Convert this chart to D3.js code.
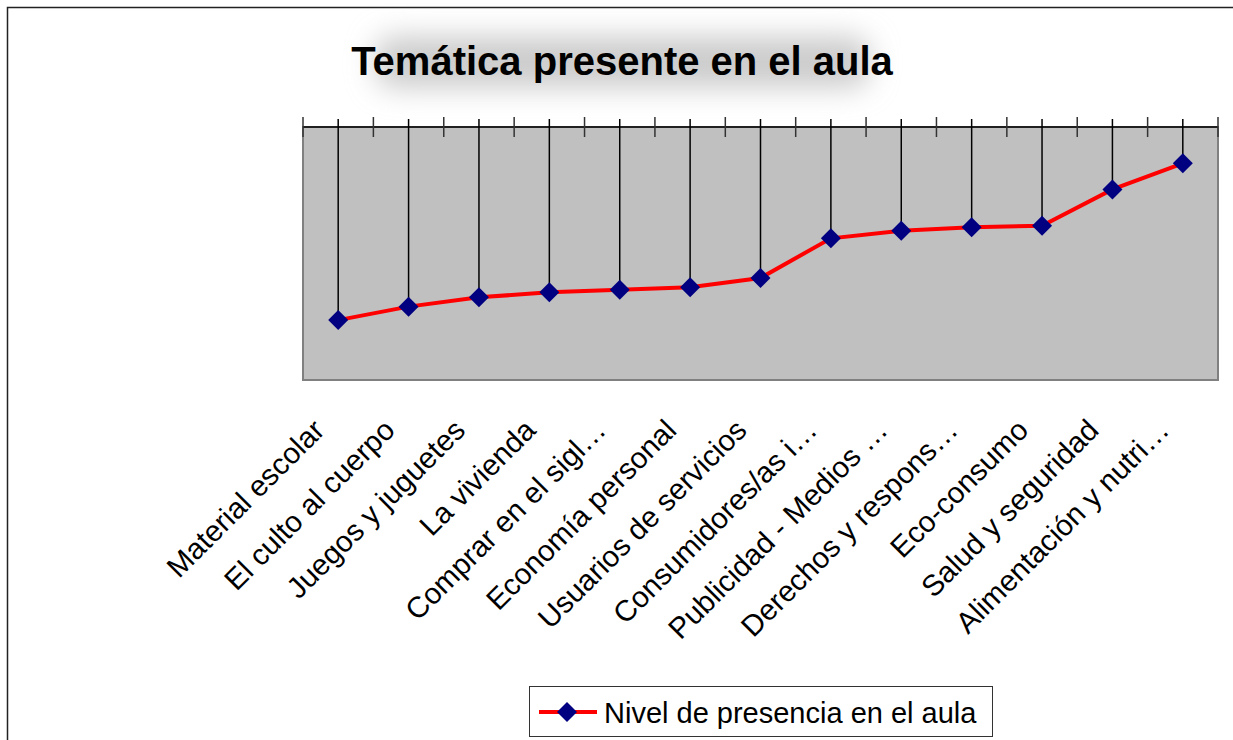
<!DOCTYPE html>
<meta charset="utf-8">
<style>
  body { margin: 0; background: #fff; }
  text { font-family: "Liberation Sans", Arial, sans-serif; }
</style>
<body>
  <div id="chart"></div>
  <script src="https://d3js.org/d3.v7.min.js"></script>
  <script>
    // categories, left to right
    var categories = [
      "Material escolar", "El culto al cuerpo", "Juegos y juguetes", "La vivienda",
      "Comprar en el sigl\u2026", "Econom\u00eda personal", "Usuarios de servicios",
      "Consumidores/as i\u2026", "Publicidad - Medios \u2026", "Derechos y respons\u2026",
      "Eco-consumo", "Salud y seguridad", "Alimentaci\u00f3n y nutri\u2026"
    ];
    // "Nivel de presencia en el aula"
    var values = [1.71, 1.87, 1.98, 2.04, 2.07, 2.10, 2.21, 2.68, 2.77, 2.81, 2.83, 3.26, 3.57];
    var seriesName = "Nivel de presencia en el aula";
    var title = "Tem\u00e1tica presente en el aula";

    var W = 1233, H = 740;
    var plot = { left: 303, right: 1218, top: 127, bottom: 380 };

    var svg = d3.select("#chart").append("svg")
      .attr("width", W)
      .attr("height", H);

    var defs = svg.append("defs");
    defs.append("filter").attr("id", "glow")
      .attr("x", "-30%").attr("y", "-80%").attr("width", "160%").attr("height", "260%")
      .append("feGaussianBlur").attr("stdDeviation", 14);

    // outer frame (open to the right and bottom)
    svg.append("path")
      .attr("d", "M7.5," + H + "V7.5H" + W)
      .attr("fill", "none")
      .attr("stroke", "#222")
      .attr("stroke-width", 1.5);

    // title with soft shadow behind
    svg.append("rect")
      .attr("x", 375).attr("y", 36).attr("width", 495).attr("height", 52)
      .attr("rx", 20)
      .attr("fill", "#cccccc")
      .attr("filter", "url(#glow)");
    svg.append("text")
      .attr("x", 622).attr("y", 75)
      .attr("text-anchor", "middle")
      .style("font-size", "40px")
      .style("font-weight", "bold")
      .text(title);

    var x = d3.scaleBand()
      .domain(categories)
      .range([plot.left, plot.right])
      .padding(0);

    var y = d3.scaleLinear()
      .domain([1, 4])
      .range([plot.bottom, plot.top]);

    var cx = function(d) { return x(d) + x.bandwidth() / 2; };

    // plot area
    svg.append("rect")
      .attr("x", plot.left).attr("y", plot.top)
      .attr("width", plot.right - plot.left)
      .attr("height", plot.bottom - plot.top)
      .attr("fill", "#c0c0c0")
      .attr("stroke", "#808080")
      .attr("stroke-width", 2);

    // category axis on top
    svg.append("line")
      .attr("x1", plot.left).attr("x2", plot.right)
      .attr("y1", plot.top).attr("y2", plot.top)
      .attr("stroke", "#000").attr("stroke-width", 1.5);

    var bounds = categories.map(function(c) { return x(c); }).concat([plot.right]);
    svg.selectAll(".tick")
      .data(bounds)
      .enter().append("line")
      .attr("class", "tick")
      .attr("x1", function(d) { return d; }).attr("x2", function(d) { return d; })
      .attr("y1", plot.top - 10).attr("y2", plot.top + 10)
      .attr("stroke", "#333").attr("stroke-width", 1.5);

    // drop lines
    svg.selectAll(".drop")
      .data(categories)
      .enter().append("line")
      .attr("class", "drop")
      .attr("x1", cx).attr("x2", cx)
      .attr("y1", plot.top - 8)
      .attr("y2", function(d, i) { return y(values[i]); })
      .attr("stroke", "#000").attr("stroke-width", 1.5);

    // series line
    var line = d3.line()
      .x(function(d, i) { return cx(categories[i]); })
      .y(function(d) { return y(d); });

    svg.append("path")
      .datum(values)
      .attr("d", line)
      .attr("fill", "none")
      .attr("stroke", "#ff0000")
      .attr("stroke-width", 4);

    var diamond = d3.symbol().type(d3.symbolSquare).size(200);
    svg.selectAll(".pt")
      .data(values)
      .enter().append("path")
      .attr("class", "pt")
      .attr("d", diamond)
      .attr("transform", function(d, i) {
        return "translate(" + cx(categories[i]) + "," + y(d) + ") rotate(45)";
      })
      .attr("fill", "#000080");

    // rotated category labels
    svg.selectAll(".lab")
      .data(categories)
      .enter().append("text")
      .attr("class", "lab")
      .attr("text-anchor", "end")
      .attr("transform", function(d) {
        return "translate(" + (cx(d) - 12) + ",432) rotate(-45)";
      })
      .style("font-size", "29.5px")
      .text(function(d) { return d; });

    // legend
    var lg = svg.append("g");
    lg.append("rect")
      .attr("x", 529.5).attr("y", 686.5).attr("width", 463).attr("height", 50)
      .attr("fill", "#fff")
      .attr("stroke", "#333").attr("stroke-width", 1);
    lg.append("line")
      .attr("x1", 539).attr("x2", 597).attr("y1", 712).attr("y2", 712)
      .attr("stroke", "#ff0000").attr("stroke-width", 4);
    lg.append("path")
      .attr("d", diamond)
      .attr("transform", "translate(567,712) rotate(45)")
      .attr("fill", "#000080");
    lg.append("text")
      .attr("x", 604).attr("y", 723)
      .style("font-size", "29px")
      .text(seriesName);
  </script>
</body>
